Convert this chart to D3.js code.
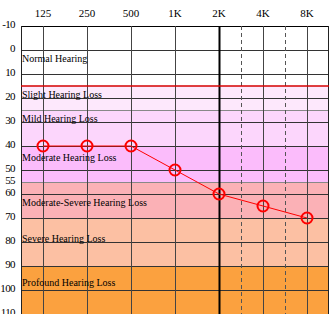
<!DOCTYPE html>
<html>
<head>
<meta charset="utf-8">
<script src="https://cdn.jsdelivr.net/npm/d3@7"></script>
<style>
  body { margin: 0; background: #fff; }
  svg { display: block; }
  text { font-family: "Liberation Serif", "DejaVu Serif", serif; fill: #000; }
</style>
</head>
<body>
<div id="chart"></div>
<script>
// audiogram data
var freqs = [125, 250, 500, 1000, 2000, 4000, 8000];
var freqLabels = ["125", "250", "500", "1K", "2K", "4K", "8K"];
var halfOctaves = [2828, 5657];   // dashed 3K / 6K lines
var thresholds = [40, 40, 40, 50, 60, 65, 70];

var dbTicks = [-10, 0, 10, 20, 30, 40, 50, 55, 60, 70, 80, 90, 100, 110];
var bandNames = ["Normal Hearing", "Slight Hearing Loss", "Mild Hearing Loss",
  "Moderate Hearing Loss", "Moderate-Severe Hearing Loss", "Severe Hearing Loss",
  "Profound Hearing Loss"];
var bandFrom = [-10, 15, 25, 40, 55, 70, 90];
var bandTo = [15, 25, 40, 55, 70, 90, 110];
var bandLabelAt = [3.5, 18.5, 28.5, 44.7, 63.5, 78.7, 97];
var bandColors = ["#ffffff", "#fde8fc", "#fcd6fc", "#fbbcfb", "#fbb1b6", "#fcc0a3", "#fba13f"];

var W = 331, H = 314;
var margin = {top: 26, right: 2, bottom: 0, left: 21};

var svg = d3.select("#chart")
  .append("svg")
  .attr("width", W)
  .attr("height", H);

var x = d3.scaleLog()
  .base(2)
  .domain([125 / Math.SQRT2, 8000 * Math.SQRT2])
  .range([margin.left, W - margin.right]);

var y = d3.scaleLinear()
  .domain([-10, 110])
  .range([margin.top, H - margin.bottom]);

var bands = bandNames.map(function(n, i) {
  return {name: n, from: bandFrom[i], to: bandTo[i], at: bandLabelAt[i], color: bandColors[i]};
});

// coloured bands
svg.selectAll("rect.band")
  .data(bands)
  .enter()
  .append("rect")
  .attr("class", "band")
  .attr("x", x.range()[0])
  .attr("width", x.range()[1] - x.range()[0])
  .attr("y", function(d) { return y(d.from); })
  .attr("height", function(d) { return y(d.to) - y(d.from); })
  .style("fill", function(d) { return d.color; });

// band boundaries that are not on a 10 dB line
svg.selectAll("line.bound")
  .data(bandFrom.filter(function(v) { return v % 10 != 0 && v != 15; }))
  .enter()
  .append("line")
  .attr("x1", x.range()[0]).attr("x2", x.range()[1])
  .attr("y1", function(d) { return Math.round(y(d)) + 0.5; })
  .attr("y2", function(d) { return Math.round(y(d)) + 0.5; })
  .style("stroke", "#888")
  .style("stroke-width", 1);

// horizontal grid
svg.selectAll("line.hgrid")
  .data(dbTicks.filter(function(v) { return v % 10 == 0; }))
  .enter()
  .append("line")
  .attr("x1", x.range()[0]).attr("x2", x.range()[1])
  .attr("y1", function(d) { return Math.round(y(d)) + 0.5; })
  .attr("y2", function(d) { return Math.round(y(d)) + 0.5; })
  .style("stroke", function(d) { return d == -10 ? "#000" : "#333"; })
  .style("stroke-width", 1);

// vertical grid
svg.selectAll("line.vgrid")
  .data(freqs)
  .enter()
  .append("line")
  .attr("x1", function(d) { return Math.round(x(d)) + 0.5; })
  .attr("x2", function(d) { return Math.round(x(d)) + 0.5; })
  .attr("y1", y(-10)).attr("y2", y(110))
  .style("stroke", function(d) { return d == 2000 ? "#000" : "#444"; })
  .style("stroke-width", function(d) { return d == 2000 ? 2 : 1; });

svg.selectAll("line.dash")
  .data(halfOctaves)
  .enter()
  .append("line")
  .attr("x1", function(d) { return Math.round(x(d)) + 0.5; })
  .attr("x2", function(d) { return Math.round(x(d)) + 0.5; })
  .attr("y1", y(-10)).attr("y2", y(110))
  .style("stroke", "#555")
  .style("stroke-dasharray", "4,3");

// left / right borders
svg.selectAll("line.border")
  .data(x.range())
  .enter()
  .append("line")
  .attr("x1", function(d, i) { return i == 0 ? d + 0.5 : d - 0.5; })
  .attr("x2", function(d, i) { return i == 0 ? d + 0.5 : d - 0.5; })
  .attr("y1", y(-10)).attr("y2", y(110))
  .style("stroke", "#222");

// red normal-hearing limit
svg.append("line")
  .attr("x1", x.range()[0]).attr("x2", x.range()[1])
  .attr("y1", y(15)).attr("y2", y(15))
  .style("stroke", "#d40000")
  .style("stroke-width", 1.5);

// band labels
svg.selectAll("text.band")
  .data(bands)
  .enter()
  .append("text")
  .attr("x", x.range()[0] + 1)
  .attr("y", function(d) { return y(d.at); })
  .attr("dy", "0.35em")
  .style("font-size", "10px")
  .text(function(d) { return d.name; });

// axis labels
svg.selectAll("text.xlab")
  .data(freqs)
  .enter()
  .append("text")
  .attr("x", function(d) { return x(d); })
  .attr("y", 13)
  .attr("dy", "0.35em")
  .attr("text-anchor", "middle")
  .style("font-size", "11px")
  .text(function(d, i) { return freqLabels[i]; });

svg.selectAll("text.ylab")
  .data(dbTicks)
  .enter()
  .append("text")
  .attr("x", 15)
  .attr("y", function(d) { return y(d) - 1.5; })
  .attr("dy", "0.35em")
  .attr("text-anchor", "end")
  .style("font-size", "11px")
  .style("letter-spacing", "-0.6px")
  .text(function(d) { return d; });

// threshold line + markers
var pts = freqs.map(function(f, i) { return [f, thresholds[i]]; });

svg.append("path")
  .datum(pts)
  .attr("d", d3.line()
    .x(function(d) { return x(d[0]); })
    .y(function(d) { return y(d[1]); }))
  .style("fill", "none")
  .style("stroke", "#f00")
  .style("stroke-width", 1);

svg.selectAll("circle.pt")
  .data(pts)
  .enter()
  .append("circle")
  .attr("cx", function(d) { return x(d[0]); })
  .attr("cy", function(d) { return y(d[1]); })
  .attr("r", 5.5)
  .style("fill", "none")
  .style("stroke", "#f00")
  .style("stroke-width", 2);
</script>
</body>
</html>
